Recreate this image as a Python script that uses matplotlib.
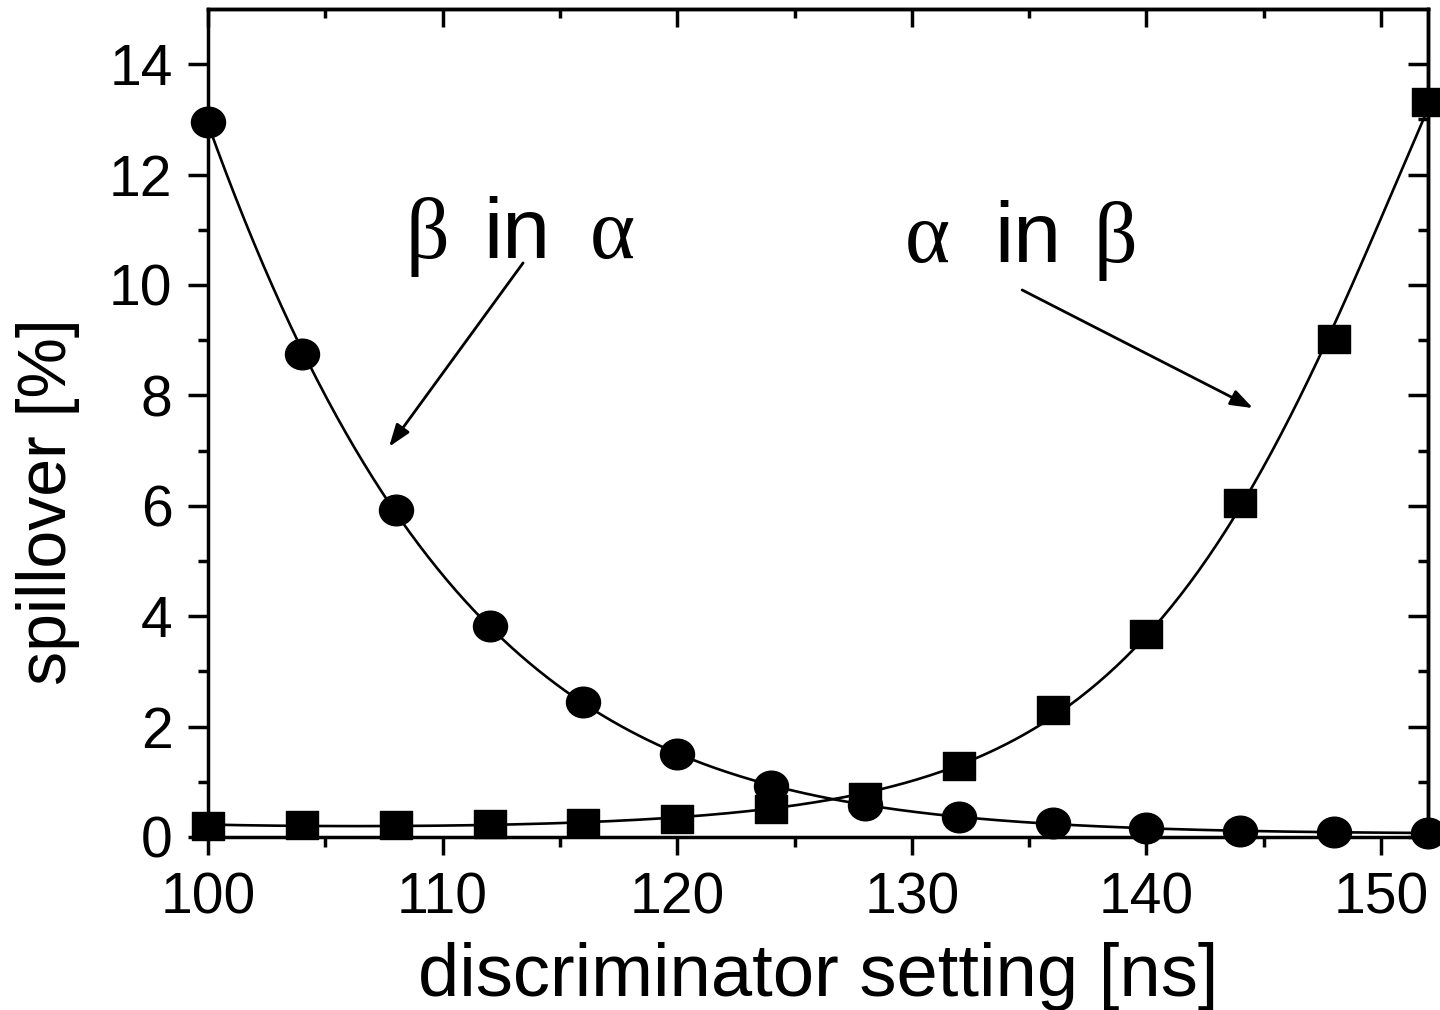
import numpy as np
import matplotlib
matplotlib.use("Agg")
import matplotlib.pyplot as plt
from matplotlib.path import Path
from matplotlib.transforms import Affine2D

plt.rcParams['font.family'] = ['Liberation Sans', 'DejaVu Sans']

# discriminator setting [ns]
disc = [100, 104, 108, 112, 116, 120, 124, 128, 132, 136, 140, 144, 148, 152]
# spillover of beta in alpha [%] (circles)
beta_in_alpha = [12.95, 8.75, 5.92, 3.82, 2.45, 1.50, 0.92, 0.58, 0.36, 0.25, 0.16, 0.11, 0.09, 0.07]
# spillover of alpha in beta [%] (squares)
alpha_in_beta = [0.20, 0.22, 0.22, 0.24, 0.26, 0.33, 0.50, 0.72, 1.29, 2.30, 3.68, 6.05, 9.02, 13.31]

xticks = [100, 110, 120, 130, 140, 150]
xminor = [105, 115, 125, 135, 145]
yticks = [0, 2, 4, 6, 8, 10, 12, 14]
yminor = [1, 3, 5, 7, 9, 11, 13]

# slightly flattened markers like the original
circ = Path.unit_circle().transformed(Affine2D().scale(1.0, 0.9))
sq = Path([(-1, -0.9), (1, -0.9), (1, 0.9), (-1, 0.9), (-1, -0.9)],
          [Path.MOVETO, Path.LINETO, Path.LINETO, Path.LINETO, Path.CLOSEPOLY])

LW = 2.5

fig = plt.figure(figsize=(14.4, 10.1), dpi=100)
ax = fig.add_axes([208/1440, 1-837/1010, 1220/1440, 828/1010])

x = np.array(disc, dtype=float)
xf = np.linspace(100, 152, 400)
# smooth fit curves (weighted least squares in log space)
for y in (beta_in_alpha, alpha_in_beta):
    y = np.array(y)
    c = np.polyfit(x - 126, np.log(y), 4, w=np.sqrt(y))
    ax.plot(xf, np.exp(np.polyval(c, xf - 126)), color='black', lw=1.9, zorder=2)

ax.plot(disc, beta_in_alpha, ls='none', marker=circ, ms=24.5, color='black',
        clip_on=False, zorder=3)
ax.plot(disc, alpha_in_beta, ls='none', marker=sq, ms=22.5, color='black',
        clip_on=False, zorder=3)

ax.set_xlim(100, 152)
ax.set_ylim(0, 15)
ax.set_xticks(xticks)
ax.set_yticks(yticks)
ax.set_xticks(xminor, minor=True)
ax.set_yticks(yminor, minor=True)

for s in ax.spines.values():
    s.set_linewidth(LW)
ax.tick_params(axis='both', which='major', labelsize=41, width=LW, direction='out')
ax.tick_params(axis='x', which='major', length=13, pad=12)
ax.tick_params(axis='y', which='major', length=14.5, pad=11)
ax.tick_params(axis='both', which='minor', width=LW, length=7, direction='out')

# top/right ticks point inward
axt = ax.secondary_xaxis('top')
axt.set_xticks(xticks, labels=[])
axt.set_xticks(xminor, minor=True)
axt.tick_params(which='major', direction='in', length=13, width=LW)
axt.tick_params(which='minor', direction='in', length=6.5, width=LW)
axr = ax.secondary_yaxis('right')
axr.set_yticks(yticks, labels=[])
axr.set_yticks(yminor, minor=True)
axr.tick_params(which='major', direction='in', length=14.5, width=LW)
axr.tick_params(which='minor', direction='in', length=7, width=LW)
axt.spines['top'].set_linewidth(LW)
axr.spines['right'].set_linewidth(LW)

ax.set_xlabel('discriminator setting [ns]', fontsize=53.5)
ax.set_ylabel('spillover [%]', fontsize=49)
ax.xaxis.set_label_coords(0.5, -0.127)
ax.yaxis.set_label_coords(-0.105, 0.405)

greek = ['Liberation Serif', 'DejaVu Serif']
fs = 62
ax.text(108.4, 10.49, '\u03b2', fontsize=fs, family=greek, ha='left', va='baseline')
ax.text(111.72, 10.49, 'in', fontsize=fs, ha='left', va='baseline')
ax.text(118.2, 10.49, '\u03b1', fontsize=fs, family=greek, ha='right', va='baseline')
ax.text(129.71, 10.42, '\u03b1', fontsize=fs, family=greek, ha='left', va='baseline')
ax.text(133.5, 10.42, 'in', fontsize=fs, ha='left', va='baseline')
ax.text(139.6, 10.42, '\u03b2', fontsize=fs, family=greek, ha='right', va='baseline')

arw = dict(arrowstyle='-|>,head_length=0.45,head_width=0.16', color='black',
           lw=2, mutation_scale=30, shrinkA=0, shrinkB=0)
ax.annotate('', xy=(107.72, 7.07), xytext=(113.43, 10.40), arrowprops=arw)
ax.annotate('', xy=(144.54, 7.77), xytext=(134.70, 9.91), arrowprops=arw)

fig.savefig('out.png', dpi=100)
